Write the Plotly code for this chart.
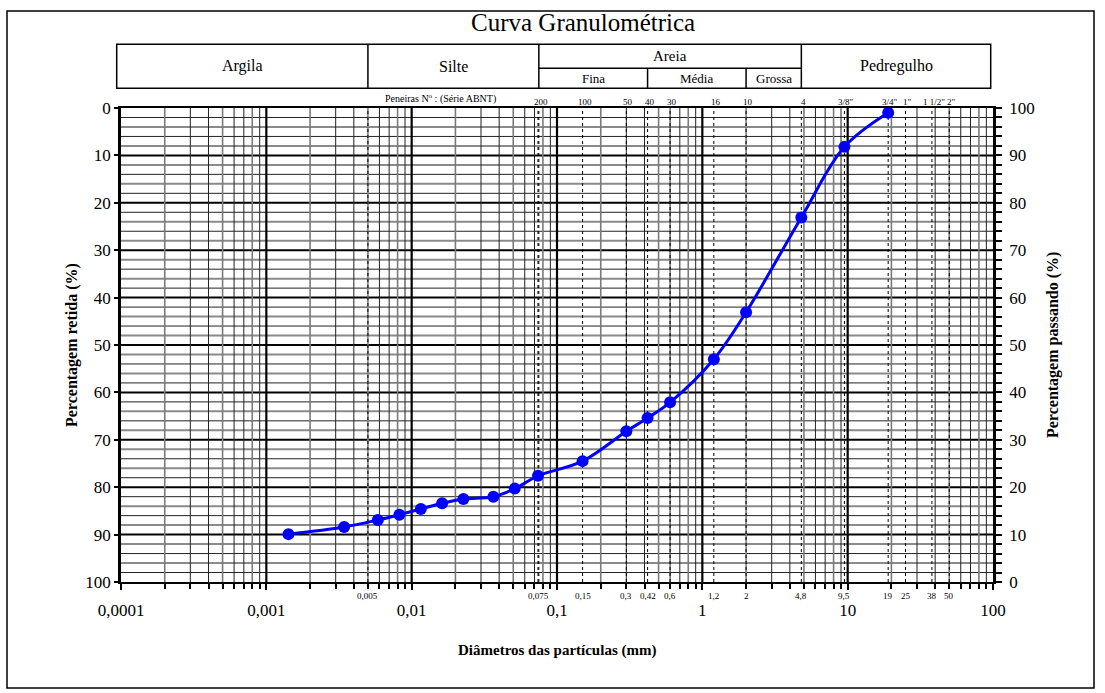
import math
import plotly.graph_objects as go

# Ensaio de granulometria: diâmetro (mm) e percentagem passando (%)
diametro_mm = [0.00142, 0.00343, 0.00585, 0.00823, 0.01156, 0.0162, 0.0227,
               0.0365, 0.0512, 0.074, 0.15, 0.3, 0.42, 0.6, 1.2, 2.0, 4.8,
               9.5, 19.0]
passando_pct = [10.1, 11.6, 13.1, 14.2, 15.4, 16.6, 17.5, 18.0, 19.7, 22.4,
                25.5, 31.8, 34.6, 37.9, 47.0, 56.9, 76.9, 91.8, 99.0]

# Peneiras da série ABNT (topo) e aberturas em mm (base)
peneiras_nome = ["200", "100", "50", "40", "30", "16", "10", "4",
                 '3/8"', '3/4"', '1"', '1 1/2"', '2"']
peneiras_mm = [0.075, 0.15, 0.3, 0.42, 0.6, 1.2, 2.0, 4.8,
               9.5, 19.0, 25.0, 38.0, 50.0]
aberturas_txt = ["0,005", "0,075", "0,15", "0,3", "0,42", "0,6", "1,2", "2",
                 "4,8", "9,5", "19", "25", "38", "50"]
aberturas_mm = [0.005, 0.075, 0.15, 0.3, 0.42, 0.6, 1.2, 2.0,
                4.8, 9.5, 19.0, 25.0, 38.0, 50.0]
linhas_tracejadas_mm = [0.005, 0.074] + peneiras_mm

# Eixo x
decadas = [0.0001, 0.001, 0.01, 0.1, 1, 10, 100]
decadas_txt = ["0,0001", "0,001", "0,01", "0,1", "1", "10", "100"]

# Classificação das frações (limites em mm)
fracoes = ["Argila", "Silte", "Areia", "Pedregulho"]
fracoes_lim = [0.0001, 0.005, 0.075, 4.8, 100]
areia_sub = ["Fina", "Média", "Grossa"]
areia_lim = [0.075, 0.42, 2.0, 4.8]

FONT = "Liberation Serif"
W, H = 1105, 693
ML, MR, MT, MB = 121, 112, 108, 111
PW, PH = W - ML - MR, H - MT - MB
XMIN, XMAX = -4, 2


def xp(d):
    """Posição em fração do papel para um diâmetro em mm."""
    return (math.log10(d) - XMIN) / (XMAX - XMIN)


def px2x(px):
    return (px - ML) / PW


def px2y(py):
    return (H - MB - py) / PH


def hline(yy, color, width):
    return dict(type="line", xref="paper", yref="paper", x0=0, x1=1,
                y0=yy, y1=yy, layer="below", line=dict(color=color, width=width))


def vline(xx, color, width, dash="solid"):
    return dict(type="line", xref="paper", yref="paper", x0=xx, x1=xx,
                y0=0, y1=1, layer="below",
                line=dict(color=color, width=width, dash=dash))


shapes = []

# Grade horizontal (percentagem)
for p in range(2, 100, 2):
    if p % 10 == 0:
        shapes.append(hline(p / 100, "#000", 2))
    elif p % 4 == 0:
        shapes.append(hline(p / 100, "#8a8a8a", 2))
    else:
        shapes.append(hline(p / 100, "#222", 1))

# Grade vertical logarítmica
minor_vals = []
for e in range(XMIN, XMAX):
    for m in range(1, 10):
        d = m * 10 ** e
        if m == 1:
            if e > XMIN:
                shapes.append(vline(xp(d), "#000", 2.2))
            continue
        minor_vals.append(d)
        if m in (2, 5, 8):
            shapes.append(vline(xp(d), "#7a7a7a", 1.6))
        else:
            shapes.append(vline(xp(d), "#222", 1))

# Linhas tracejadas das peneiras
for d in linhas_tracejadas_mm:
    shapes.append(vline(xp(d), "black", 1, dash="3px,3px"))

# Quadro externo
shapes.append(dict(type="rect", xref="paper", yref="paper",
                   x0=px2x(7), x1=px2x(1094), y0=px2y(688), y1=px2y(11),
                   line=dict(color="black", width=1.5)))

# Tabela de classificação
yt, ym, yb = px2y(44.3), px2y(68.3), px2y(88.3)
xl, xr = px2x(116.7), px2x(990.7)
shapes.append(dict(type="rect", xref="paper", yref="paper",
                   x0=xl, x1=xr, y0=yb, y1=yt, line=dict(color="black", width=1.5)))
for d in fracoes_lim[1:-1]:
    shapes.append(dict(type="line", xref="paper", yref="paper",
                       x0=xp(d), x1=xp(d), y0=yb, y1=yt,
                       line=dict(color="black", width=1.5)))
shapes.append(dict(type="line", xref="paper", yref="paper",
                   x0=xp(areia_lim[0]), x1=xp(areia_lim[-1]), y0=ym, y1=ym,
                   line=dict(color="black", width=1.5)))
for d in areia_lim[1:-1]:
    shapes.append(dict(type="line", xref="paper", yref="paper",
                       x0=xp(d), x1=xp(d), y0=yb, y1=ym,
                       line=dict(color="black", width=1.5)))

annotations = []


def txt(x, y, s, size, bold=False, angle=0, xanchor="center", yanchor="middle"):
    annotations.append(dict(x=x, y=y, xref="paper", yref="paper",
                            text=f"<b>{s}</b>" if bold else s, showarrow=False,
                            textangle=angle, xanchor=xanchor, yanchor=yanchor,
                            font=dict(family=FONT, size=size, color="black")))


txt(px2x(583), px2y(22), "Curva Granulométrica", 25)

# Rótulos da tabela
txt((xl + xp(fracoes_lim[1])) / 2, (yt + yb) / 2, fracoes[0], 16)
txt((xp(fracoes_lim[1]) + xp(fracoes_lim[2])) / 2, (yt + yb) / 2, fracoes[1], 16)
txt((xp(fracoes_lim[2]) + xp(fracoes_lim[3])) / 2, (yt + ym) / 2, fracoes[2], 15)
txt((xp(fracoes_lim[3]) + xr) / 2, (yt + yb) / 2, fracoes[3], 16)
for i, s in enumerate(areia_sub):
    txt((xp(areia_lim[i]) + xp(areia_lim[i + 1])) / 2, (ym + yb) / 2, s, 13)

# Peneiras (topo)
txt(px2x(440), px2y(99), "Peneiras N<sup>o</sup> : (Série ABNT)", 10)
for s, d in zip(peneiras_nome, peneiras_mm):
    txt(xp(d) + 2 / PW, px2y(102), s, 9)

# Aberturas (base)
for s, d in zip(aberturas_txt, aberturas_mm):
    txt(xp(d), px2y(596), s, 9)

# Títulos dos eixos
txt(px2x(72), 0.5, "Percentagem retida (%)", 16, bold=True, angle=-90)
txt(px2x(1053), 0.5, "Percentagem passando (%)", 16, bold=True, angle=-90)
txt(0.5, px2y(650), "Diâmetros das partículas (mm)", 15, bold=True)

fig = go.Figure()
# Traço vazio que ativa o eixo da percentagem retida (esquerda)
fig.add_trace(go.Scatter(x=[None], y=[None], yaxis="y", mode="markers",
                         showlegend=False, hoverinfo="skip"))
fig.add_trace(go.Scatter(
    x=diametro_mm, y=passando_pct, yaxis="y2", mode="lines+markers",
    line=dict(color="#0000ff", width=3, shape="spline", smoothing=1.0),
    marker=dict(color="#0000ff", size=12),
    showlegend=False, hoverinfo="x+y"))

fig.update_layout(
    width=W, height=H, autosize=False,
    margin=dict(l=ML, r=MR, t=MT, b=MB, pad=0),
    paper_bgcolor="white", plot_bgcolor="white",
    font=dict(family=FONT, color="black"),
    xaxis=dict(type="log", range=[XMIN, XMAX], tickmode="array",
               tickvals=decadas, ticktext=decadas_txt,
               ticks="outside", ticklen=6, tickwidth=2, tickcolor="black",
               showline=True, linewidth=2, linecolor="black", mirror=True,
               showgrid=False, zeroline=False, ticklabelstandoff=6,
               tickfont=dict(family=FONT, size=17, color="black"),
               minor=dict(tickvals=minor_vals, ticks="outside", ticklen=5,
                          tickwidth=1.5, tickcolor="black", showgrid=False)),
    yaxis=dict(range=[100, 0], tickmode="linear", tick0=0, dtick=10,
               ticks="outside", ticklen=4, tickwidth=1.5, tickcolor="black",
               showline=True, linewidth=2.5, linecolor="black",
               showgrid=False, zeroline=False,
               tickfont=dict(family=FONT, size=17, color="black")),
    yaxis2=dict(range=[0, 100], overlaying="y", side="right",
                tickmode="linear", tick0=0, dtick=10,
                ticks="outside", ticklen=6, tickwidth=2, tickcolor="black",
                showline=True, linewidth=2.5, linecolor="black",
                showgrid=False, zeroline=False, ticklabelstandoff=4,
                tickfont=dict(family=FONT, size=17, color="black"),
                minor=dict(dtick=2, ticks="outside", ticklen=6, tickwidth=1.5,
                           tickcolor="black", showgrid=False)),
    shapes=shapes, annotations=annotations,
)

fig.write_html("out.html")
